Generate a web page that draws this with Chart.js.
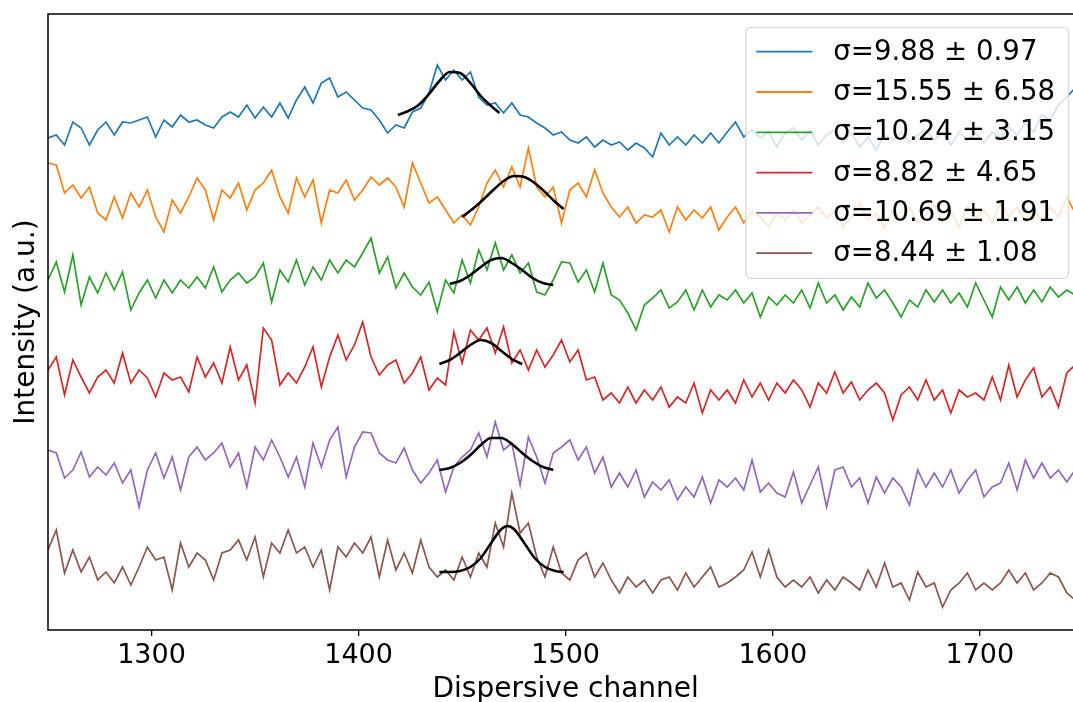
<!DOCTYPE html>
<html>
<head>
<meta charset="utf-8">
<script src="https://cdn.jsdelivr.net/npm/chart.js@4.4.0/dist/chart.umd.min.js"></script>
<style>
  html, body { margin: 0; padding: 0; background: #fff; overflow: hidden; }
  #wrap { width: 1073px; height: 702px; }
</style>
</head>
<body>
<div id="wrap"><canvas id="chart" width="1073" height="702"></canvas></div>
<script>
// Channel grid shared by the six measured spectra
const channels = [1250,1254,1258,1262,1266,1270,1274,1278,1282,1286,1290,1294,1298,1302,1306,1310,1314,1318,1322,1326,
  1330,1334,1338,1342,1346,1350,1354,1358,1362,1366,1370,1374,1378,1382,1386,1390,1394,1398,1402,1406,
  1410,1414,1418,1422,1426,1430,1434,1438,1442,1446,1450,1454,1458,1462,1466,1470,1474,1478,1482,1486,
  1490,1494,1498,1502,1506,1510,1514,1518,1522,1526,1530,1534,1538,1542,1546,1550,1554,1558,1562,1566,
  1570,1574,1578,1582,1586,1590,1594,1598,1602,1606,1610,1614,1618,1622,1626,1630,1634,1638,1642,1646,
  1650,1654,1658,1662,1666,1670,1674,1678,1682,1686,1690,1694,1698,1702,1706,1710,1714,1718,1722,1726,
  1730,1734,1738,1742,1746];

// Intensities (a.u., already stacked with their offsets)
const blue = [492,495,485,508,502,485,500,508,495,508,507,510,513,493,510,503,515,508,510,505,
  502,513,518,513,525,512,523,513,527,512,530,543,527,547,552,533,538,530,522,520,
  510,497,505,502,518,522,537,565,550,560,550,558,533,525,527,517,527,515,513,507,
  502,495,498,490,487,493,483,490,485,488,480,487,482,473,497,485,493,485,495,487,
  497,487,498,508,493,500,492,498,483,497,502,490,500,485,495,500,488,497,483,493,
  480,495,490,498,488,495,500,490,497,485,498,490,497,487,498,492,503,495,507,498,
  515,510,525,533,542];
const orange = [467,465,437,445,432,443,417,410,433,412,437,423,440,413,398,430,417,433,452,440,
  410,440,432,447,420,440,447,460,433,417,452,433,450,407,440,437,450,430,440,453,
  445,452,443,423,467,447,427,433,420,407,415,405,423,447,460,443,463,443,482,443,
  433,443,407,440,447,433,460,437,423,413,423,407,415,413,420,398,423,410,420,412,
  423,400,413,423,407,418,413,403,417,410,420,407,415,423,412,420,403,413,427,410,
  417,402,420,410,423,407,415,425,408,418,403,423,412,420,407,427,413,423,408,420,
  410,423,413,433,417];
const green = [350,368,338,375,325,353,337,357,340,358,320,337,350,332,350,337,350,342,353,342,
  363,338,350,357,347,353,367,328,360,348,370,345,363,350,370,357,370,363,377,392,
  357,373,342,357,343,335,348,318,350,337,370,347,380,360,387,360,375,357,367,338,
  335,350,368,367,348,360,338,367,335,330,317,300,325,332,340,322,328,340,320,340,
  323,335,330,340,327,337,313,333,325,335,327,340,322,347,327,335,320,333,323,347,
  332,340,327,313,330,323,340,328,340,327,337,323,347,330,313,343,330,343,327,340,
  328,343,333,340,335];
const red = [260,273,235,270,253,237,253,260,247,277,247,260,252,233,257,250,253,238,273,253,
  267,247,283,250,265,227,302,290,245,257,247,263,283,243,273,295,270,285,308,273,
  255,265,270,247,257,273,240,252,245,298,267,300,290,302,277,303,267,280,260,280,
  263,275,290,268,280,250,253,230,237,227,243,227,240,230,243,223,233,227,247,217,
  240,230,240,227,250,233,247,230,247,237,250,240,223,247,237,258,237,248,230,240,
  247,237,210,235,243,230,250,230,240,217,240,233,237,230,253,230,265,233,250,262,
  233,243,223,257,265];
const purple = [180,177,152,160,178,153,163,155,167,147,160,123,160,177,152,173,140,173,183,170,
  177,187,163,177,143,183,170,190,173,153,173,143,187,163,190,203,153,183,198,197,
  177,170,167,182,160,147,157,170,138,163,173,180,197,173,208,180,187,145,193,173,
  147,177,183,190,170,183,157,173,143,157,143,160,133,148,140,150,130,143,133,153,
  127,150,143,152,140,170,138,147,137,133,158,127,145,163,123,160,163,143,152,127,
  153,137,152,143,125,160,143,157,143,160,137,150,160,133,143,147,167,140,170,152,
  167,152,160,148,160];
const brown = [80,100,57,80,58,73,50,58,47,63,45,63,83,70,73,40,87,63,77,70,
  50,77,80,90,70,93,53,87,77,100,77,83,63,80,40,83,73,87,77,93,
  53,90,60,77,57,90,63,53,60,50,73,53,77,63,107,83,137,97,107,73,
  53,83,57,50,70,77,53,67,50,37,53,43,50,37,50,53,40,57,43,53,
  63,43,47,53,60,78,53,80,53,43,50,43,53,37,50,40,53,47,40,60,
  43,67,43,47,30,58,43,47,23,40,47,57,40,47,40,47,60,47,57,40,
  47,57,53,37,30];

// Gaussian fits (black curves)
const fit1Ch = [1419,1424,1429,1434,1439,1444,1449,1454,1459,1464,1468];
const fit1 = [515,519,525,536,549,558,557,547,534,524,517];
const fit2Ch = [1450,1455,1460,1465,1470,1475,1480,1485,1490,1495,1499];
const fit2 = [413,421,430,440,449,454,453,447,438,428,421];
const fit3Ch = [1444,1449,1454,1459,1464,1469,1474,1479,1484,1489,1494];
const fit3 = [346,349,355,363,370,372,367,360,352,347,345];
const fit4Ch = [1439,1444,1449,1454,1459,1464,1469,1474,1479];
const fit4 = [266,270,277,285,290,287,279,271,266];
const fit5Ch = [1439,1444,1449,1454,1459,1464,1469,1474,1479,1484,1489,1494];
const fit5 = [160,162,167,175,185,192,192,186,177,169,163,160];
const fit6Ch = [1439,1444,1449,1454,1459,1464,1469,1472,1475,1480,1485,1490,1495,1499];
const fit6 = [58,58,59,63,72,87,101,104,101,87,72,63,59,58];

const sigmaLabels = ['σ=9.88 ± 0.97', 'σ=15.55 ± 6.58', 'σ=10.24 ± 3.15',
  'σ=8.82 ± 4.65', 'σ=10.69 ± 1.91', 'σ=8.44 ± 1.08'];
const colors = ['#1f77b4', '#ff7f0e', '#2ca02c', '#d62728', '#9467bd', '#8c564b'];
const xTicks = [1300, 1400, 1500, 1600, 1700];

const FONT = "'DejaVu Sans', sans-serif";

function pts(xs, ys) {
    return xs.map((x, i) => ({ x: x, y: ys[i] }));
}

const series = [blue, orange, green, red, purple, brown];
const fits = [[fit1Ch, fit1], [fit2Ch, fit2], [fit3Ch, fit3], [fit4Ch, fit4], [fit5Ch, fit5], [fit6Ch, fit6]];

const datasets = [];
series.forEach((s, i) => {
    datasets.push({
        label: sigmaLabels[i],
        data: pts(channels, s),
        borderColor: colors[i],
        borderWidth: 1.7,
        pointRadius: 0,
        tension: 0,
        order: 2
    });
});
fits.forEach(f => {
    datasets.push({
        label: '',
        data: pts(f[0], f[1]),
        borderColor: '#000',
        borderWidth: 2.6,
        pointRadius: 0,
        cubicInterpolationMode: 'monotone',
        order: 1
    });
});

// spines, axis titles and the legend box (drawn like matplotlib's)
const decorations = {
    id: 'decorations',
    afterDatasetsDraw(chart) {
        const ctx = chart.ctx;
        const a = chart.chartArea;
        ctx.save();
        ctx.strokeStyle = '#000';
        ctx.lineWidth = 1.5;
        ctx.beginPath();
        ctx.moveTo(a.right + 2, a.top);
        ctx.lineTo(a.left, a.top);
        ctx.lineTo(a.left, a.bottom);
        ctx.lineTo(a.right + 2, a.bottom);
        ctx.stroke();

        // axis titles
        ctx.fillStyle = '#000';
        ctx.font = '28px ' + FONT;
        ctx.textAlign = 'center';
        ctx.textBaseline = 'alphabetic';
        const xs = chart.scales.x;
        ctx.fillText('Dispersive channel', xs.getPixelForValue(1500), a.bottom + 67);
        ctx.translate(a.left - 14, (a.top + a.bottom) / 2);
        ctx.rotate(-Math.PI / 2);
        ctx.fillText('Intensity (a.u.)', 0, 0);
        ctx.restore();

        // legend
        ctx.save();
        ctx.font = '27.6px ' + FONT;
        const labels = chart.data.datasets.filter(d => d.label);
        let maxW = 0;
        labels.forEach(d => { maxW = Math.max(maxW, ctx.measureText(d.label).width); });
        const rowH = 40.3;
        const boxW = 88 + maxW + 13;
        const boxH = rowH * labels.length + 9;
        const bx = a.right - 5 - boxW;
        const by = a.top + 13;
        ctx.beginPath();
        ctx.roundRect(bx + 0.5, by + 0.5, boxW, boxH, 5);
        ctx.fillStyle = 'rgba(255,255,255,0.8)';
        ctx.fill();
        ctx.strokeStyle = 'rgba(204,204,204,0.8)';
        ctx.lineWidth = 1.2;
        ctx.stroke();
        ctx.textAlign = 'left';
        ctx.textBaseline = 'middle';
        labels.forEach((d, i) => {
            const cy = by + 24.7 + i * rowH;
            ctx.strokeStyle = d.borderColor;
            ctx.lineWidth = 1.8;
            ctx.beginPath();
            ctx.moveTo(bx + 11, cy);
            ctx.lineTo(bx + 67, cy);
            ctx.stroke();
            ctx.fillStyle = '#000';
            ctx.fillText(d.label, bx + 88, cy + 1);
        });
        ctx.restore();
    }
};

new Chart(document.getElementById('chart'), {
    type: 'line',
    data: { datasets: datasets },
    options: {
        responsive: false,
        animation: false,
        layout: { padding: { left: 48, top: 14, right: 0, bottom: 0 } },
        plugins: {
            legend: { display: false },
            tooltip: { enabled: false }
        },
        scales: {
            x: {
                type: 'linear',
                min: 1250,
                max: 1745,
                afterFit: function(scale) { scale.height = 72; },
                afterBuildTicks: function(scale) {
                    scale.ticks = xTicks.map(v => ({ value: v }));
                },
                grid: {
                    display: true,
                    drawOnChartArea: false,
                    drawTicks: true,
                    tickLength: 6,
                    color: '#000',
                    lineWidth: 1.3
                },
                border: { display: false },
                ticks: {
                    color: '#000',
                    font: { family: FONT, size: 27 },
                    padding: 4,
                    maxRotation: 0,
                    autoSkip: false,
                    callback: function(value) { return String(value); }
                }
            },
            y: {
                display: false,
                min: 0,
                max: 616
            }
        }
    },
    plugins: [decorations]
});
</script>
</body>
</html>
